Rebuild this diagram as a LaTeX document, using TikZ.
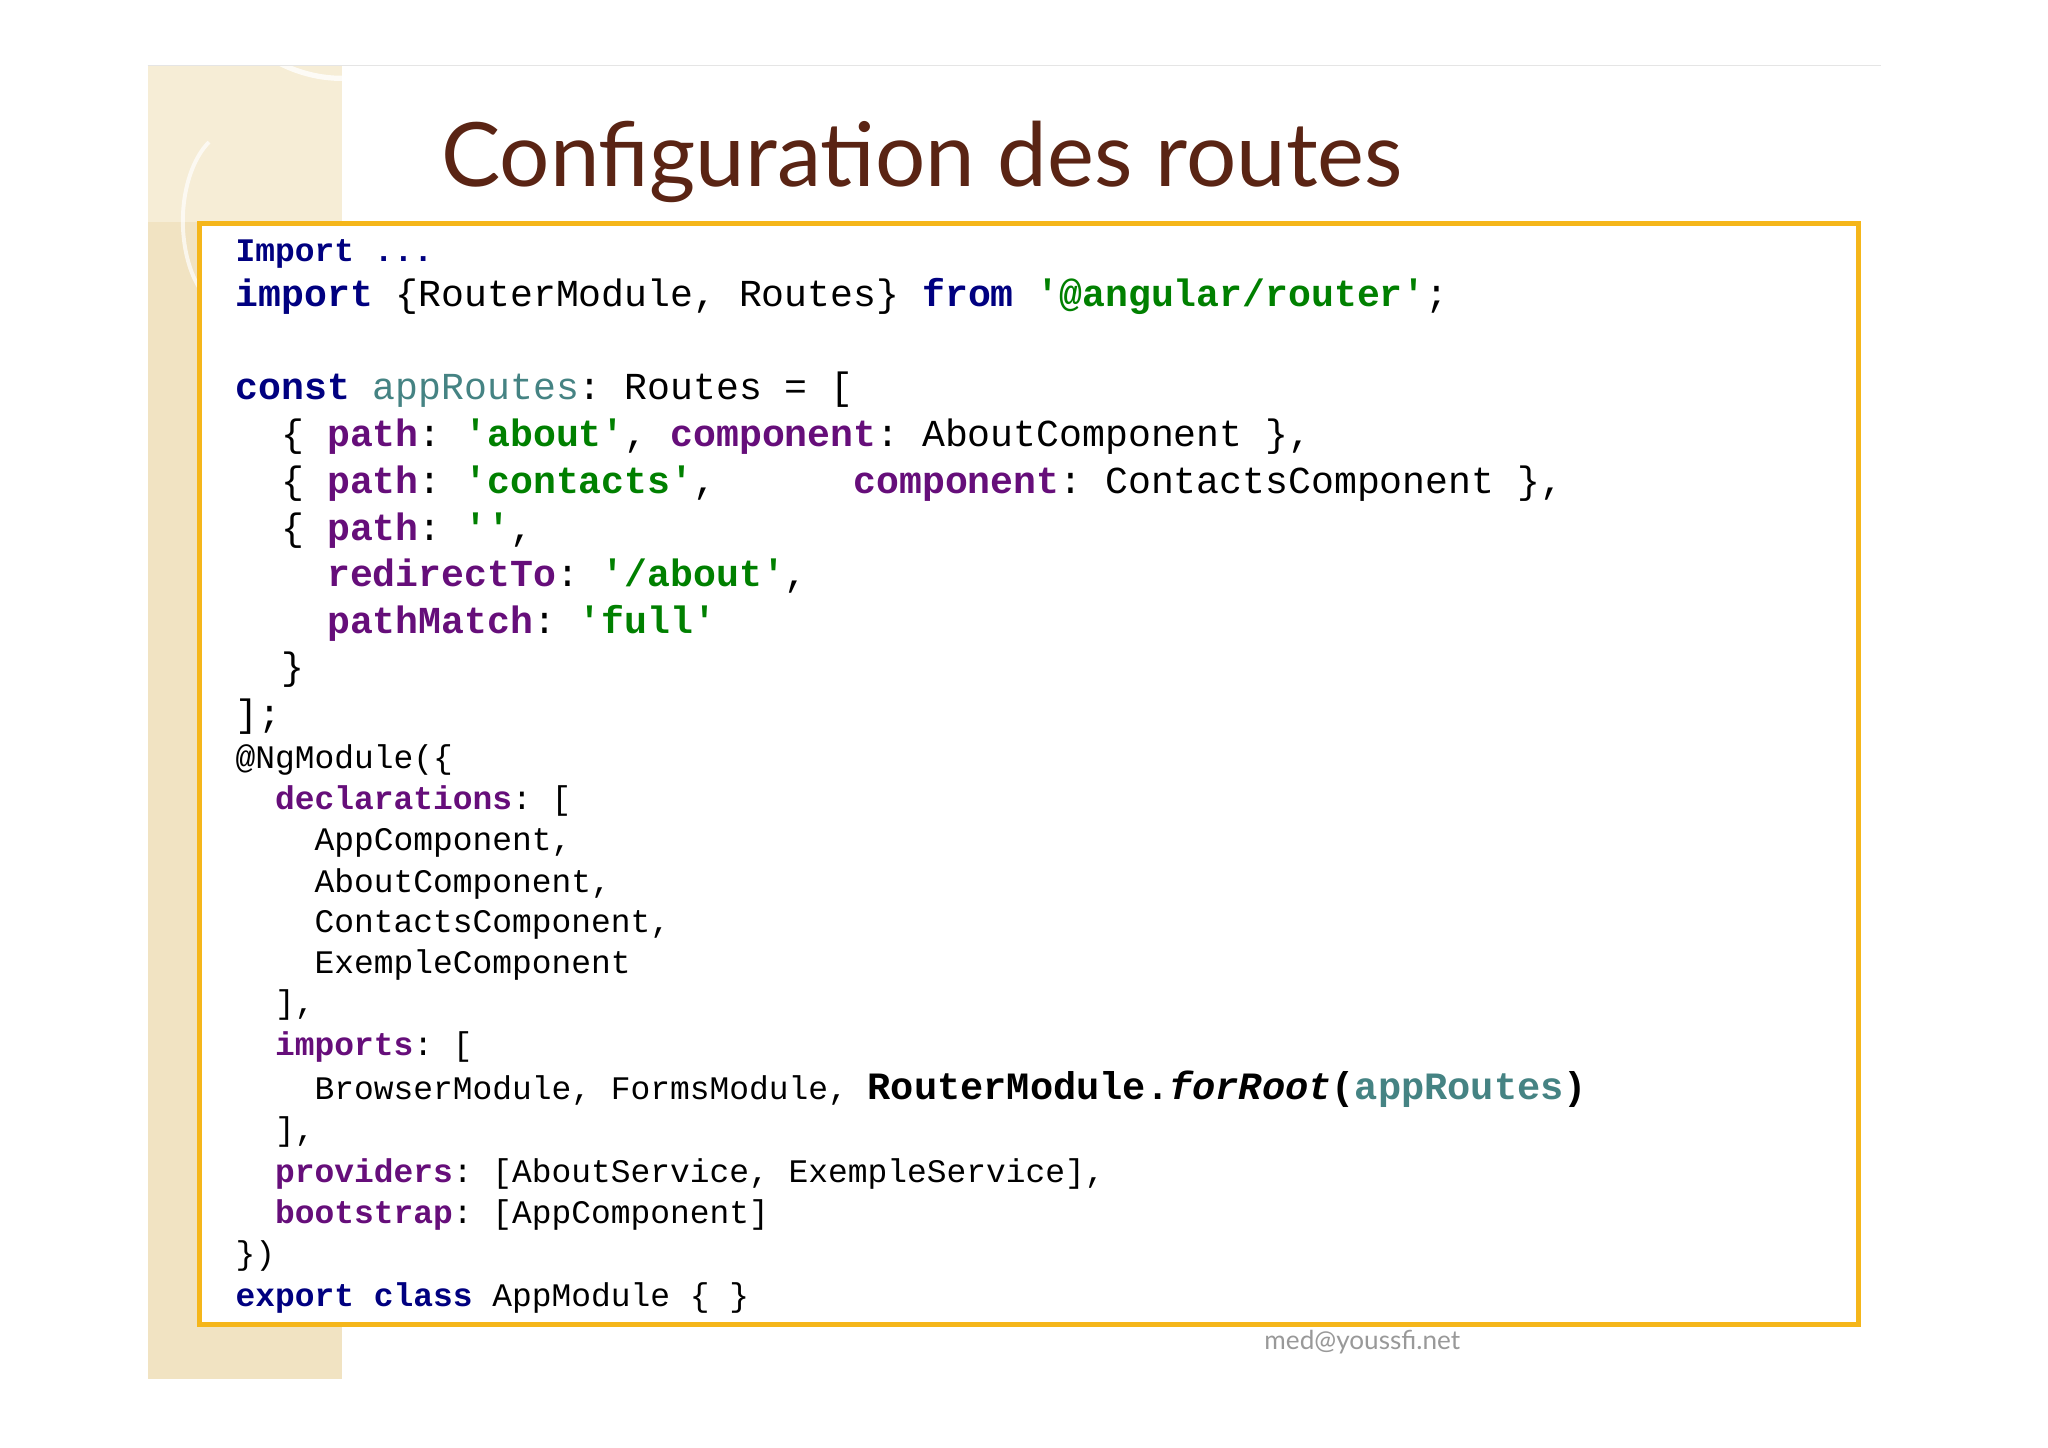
\documentclass[tikz,border=0pt]{standalone}
\usepackage{fontspec}
\setmainfont{Lato}
\setmonofont{Liberation Mono}
\definecolor{kw}{HTML}{000080}
\definecolor{st}{HTML}{008000}
\definecolor{pr}{HTML}{660E7A}
\definecolor{tl}{HTML}{458383}
\definecolor{ttl}{HTML}{5A2414}
\definecolor{box}{HTML}{F5B61A}
\definecolor{strip}{HTML}{F1E3C2}
\definecolor{strip2}{HTML}{F6EDD6}
\newcommand{\K}[1]{\textbf{\color{kw}#1}}
\newcommand{\Sg}[1]{\textbf{\color{st}#1}}
\newcommand{\Pp}[1]{\textbf{\color{pr}#1}}
\begin{document}
\begin{tikzpicture}[x=0.5pt,y=-0.5pt,
  big/.style={anchor=base west,inner sep=0,font=\ttfamily\fontsize{14.6}{16}\selectfont},
  sml/.style={anchor=base west,inner sep=0,font=\ttfamily\fontsize{12.6}{14}\selectfont}]
\useasboundingbox (0,0) rectangle (1568,1108);
\fill[white] (0,0) rectangle (1568,1108);
\fill[strip] (113,50) rectangle (262,1056);
\fill[strip2] (113,50) rectangle (262,170);
\draw[white,line width=2pt,opacity=0.8] (262,60) arc (90:180:120 and 140);
\draw[white,line width=1.5pt,opacity=0.7] (160,230) arc (120:240:40 and 70);
\draw[gray!20,line width=0.6pt] (113,50) -- (1440,50);
\node[font=\fontsize{34}{36}\selectfont,text=ttl,anchor=base] (title) at (706,143) {Configuration des routes};
\draw[box,line width=2pt,fill=white] (153,171) rectangle (1423,1014);
\node[sml] (l1) at (180,200) {\K{Import ...}};
\node[big] (l2) at (180,235) {\K{import}~\{RouterModule,~Routes\}~\K{from}~\Sg{'@angular/router'};};
\node[big] (l3) at (180,306) {\K{const}~{\color{tl}appRoutes}:~Routes~=~[};
\node[big] (l4) at (180,342) {~~\{~\Pp{path}:~\Sg{'about'},~\Pp{component}:~AboutComponent~\},};
\node[big] (l5) at (180,378) {~~\{~\Pp{path}:~\Sg{'contacts'},~~~~~~\Pp{component}:~ContactsComponent~\},};
\node[big] (l6) at (180,414) {~~\{~\Pp{path}:~\Sg{''},};
\node[big] (l7) at (180,449) {~~~~\Pp{redirectTo}:~\Sg{'/about'},};
\node[big] (l8) at (180,485) {~~~~\Pp{pathMatch}:~\Sg{'full'}};
\node[big] (l9) at (180,520) {~~\}};
\node[big] (l10) at (180,556) {];};
\node[sml] (l11) at (180,588) {@NgModule(\{};
\node[sml] (l12) at (180,620) {~~\Pp{declarations}:~[};
\node[sml] (l13) at (180,651) {~~~~AppComponent,};
\node[sml] (l14) at (180,683) {~~~~AboutComponent,};
\node[sml] (l15) at (180,714) {~~~~ContactsComponent,};
\node[sml] (l16) at (180,745) {~~~~ExempleComponent};
\node[sml] (l17) at (180,776) {~~],};
\node[sml] (l18) at (180,808) {~~\Pp{imports}:~[};
\node[sml] (l19) at (180,842) {~~~~BrowserModule,~FormsModule,~{\fontsize{14.8}{16}\selectfont\textbf{RouterModule.\textit{forRoot}(\color{tl}appRoutes\color{black})}}};
\node[sml] (l20) at (180,873) {~~],};
\node[sml] (l21) at (180,905) {~~\Pp{providers}:~[AboutService,~ExempleService],};
\node[sml] (l22) at (180,937) {~~\Pp{bootstrap}:~[AppComponent]};
\node[sml] (l23) at (180,968) {\})};
\node[sml] (l24) at (180,1000) {\K{export}~\K{class}~AppModule~\{~\}};
\node[font=\fontsize{10}{12}\selectfont,text=gray!80,anchor=base] (foot) at (1043,1033) {med@youssfi.net};
\end{tikzpicture}
\end{document}
